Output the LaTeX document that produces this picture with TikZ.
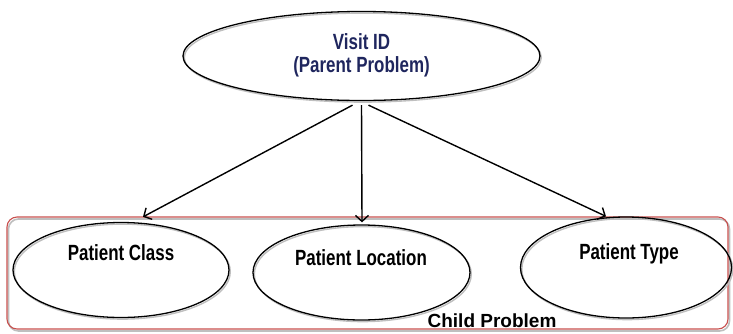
\documentclass[tikz,border=0pt]{standalone}
\usepackage{fontspec}
\setmainfont{Liberation Sans}
\newfontfamily\narrowfont{Liberation Sans}[FakeStretch=0.77]
\usepackage{xcolor}
\usetikzlibrary{shapes.geometric, arrows.meta, positioning, calc}
\definecolor{visitblue}{RGB}{31,38,94}
\definecolor{boxred}{RGB}{200,80,78}

\begin{document}
\begin{tikzpicture}[
    x=1pt, y=-1pt,
    oval/.style={ellipse, draw, line width=1.3pt, inner sep=0pt,
      preaction={draw=black!25, line width=1.4pt, transform canvas={shift={(1.3pt,-1.6pt)}}}},
    lbl/.style={anchor=base, font=\narrowfont\bfseries\fontsize{22}{24}\selectfont},
    relation/.style={-{Straight Barb[length=6pt, width=13pt]}, line width=1.4pt},
  ]
    \useasboundingbox (0,0) rectangle (733,333);

    % Child problem frame
    \draw[black!25, line width=1.6pt, rounded corners=10pt] (8.5,219) rectangle (729.5,331);
    \node[draw=boxred, line width=1.1pt, rounded corners=10pt, minimum width=721pt,
      minimum height=112pt, inner sep=0pt] (frame) at (367.5,273) {};
    \node[anchor=base, font=\bfseries\fontsize{19}{21}\selectfont] (childtxt) at (492,327) {Child Problem};

    % Visit ID
    \node[oval, minimum width=357pt, minimum height=89pt] (visit) at (361.5,56) {};
    \node[anchor=base, align=center, text=visitblue,
      font=\narrowfont\bfseries\fontsize{22}{23}\selectfont] (visittxt) at (361.5,72)
      {\narrowfont\bfseries Visit ID\\\narrowfont\bfseries (Parent Problem)};

    % Patient Class
    \node[oval, minimum width=216pt, minimum height=95pt] (class) at (121,270) {};
    \node[lbl] (classtxt) at (121,260) {Patient Class};

    % Patient Location
    \node[oval, minimum width=217pt, minimum height=95pt] (location) at (361.5,272.5) {};
    \node[lbl] (locationtxt) at (361,265) {Patient Location};

    % Patient Type
    \node[oval, minimum width=211pt, minimum height=101pt] (type) at (626,267.5) {};
    \node[lbl] (typetxt) at (629,259) {Patient Type};

    % Relationships
    \draw[relation] ([xshift=-9pt, yshift=-4pt]visit.south) -- ([xshift=22pt, yshift=5pt]class.north);
    \draw[relation] ([yshift=-4pt]visit.south) -- ([xshift=0.5pt, yshift=2pt]location.north);
    \draw[relation] ([xshift=7pt, yshift=-4pt]visit.south) -- ([xshift=-20pt]type.north);

  \end{tikzpicture}
\end{document}
